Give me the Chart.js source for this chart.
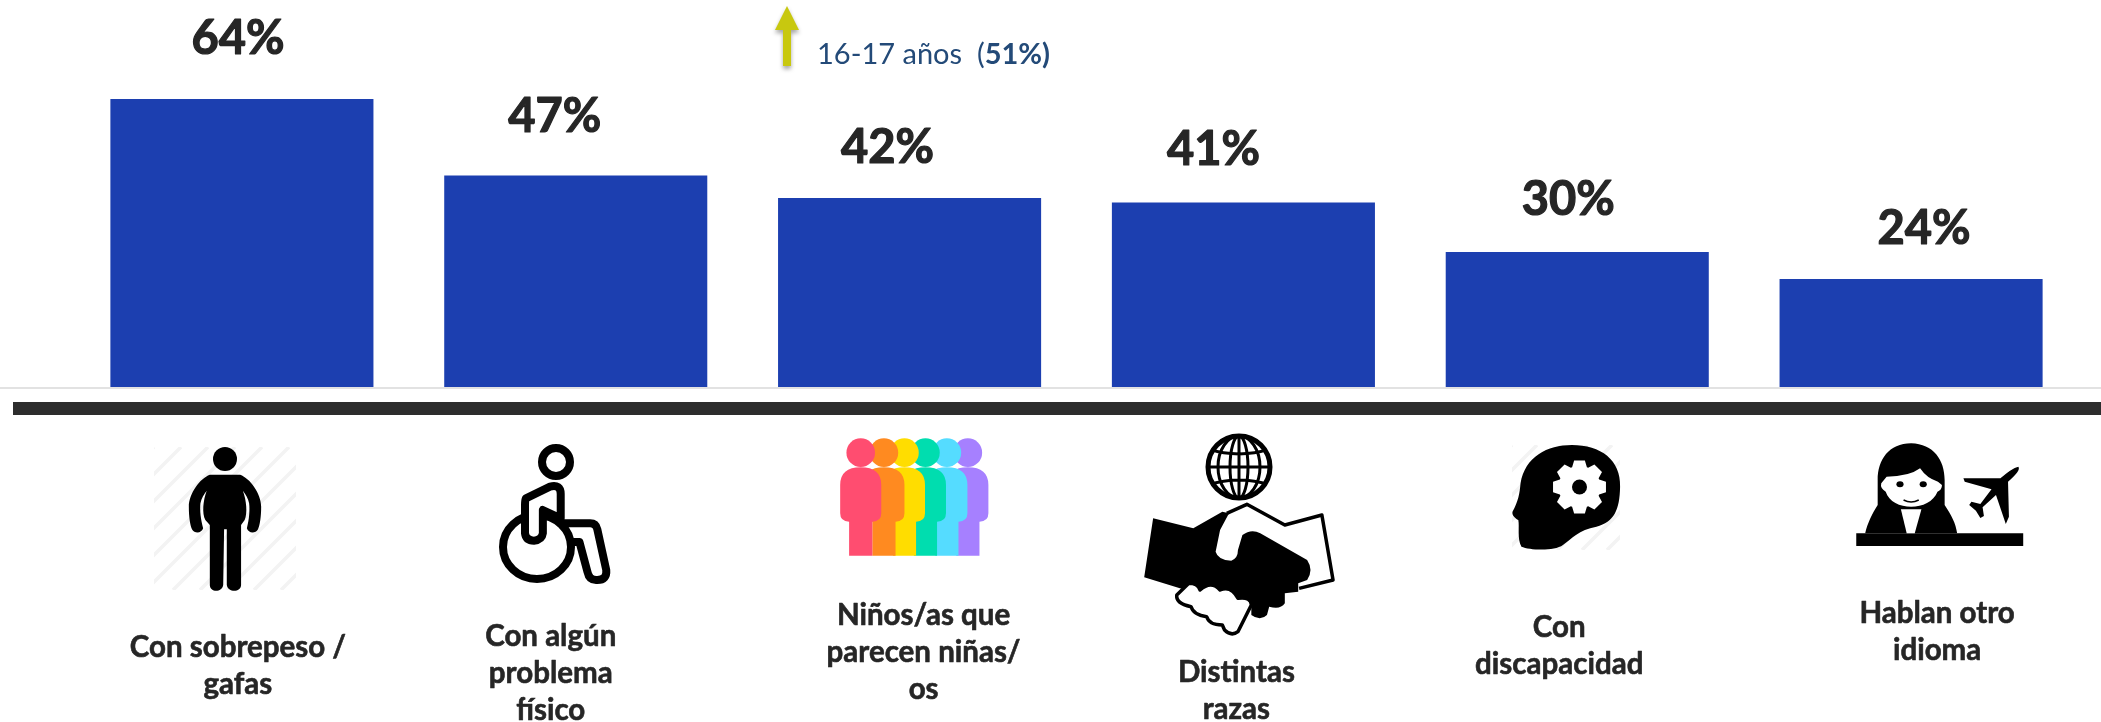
<!DOCTYPE html>
<html lang="es"><head><meta charset="utf-8">
<style>html,body{margin:0;padding:0;background:#fff}canvas{display:block}</style>
<script src="https://cdn.jsdelivr.net/npm/chart.js@4"></script>
</head><body><canvas id="c" width="2101" height="722"></canvas>
<script>
const categories = [
  ["Con sobrepeso /","gafas"],
  ["Con algún","problema","físico"],
  ["Niños/as que","parecen niñas/","os"],
  ["Distintas","razas"],
  ["Con","discapacidad"],
  ["Hablan otro","idioma"]
];
const values = [64, 47, 42, 41, 30, 24];
const noteText = "16-17 años  (";
const noteValue = "51%";

/* layout only */
const valueDx = [-4,-21,-22,-30,-9,13];
const valueGap = [60,59,50,53,52,50];
const labelDx = [-4,-25,14,-7,-18,26];
const labelY = [647,636,615,672,627,613];
const lineH = 37;
const FONT = "Lato, Carlito, 'Open Sans', sans-serif";

function z(d, panel){
  const p = new Path2D();
  p.addPath(new Path2D(d), new DOMMatrix([1/2.24,0,0,1/3,panel,370]));
  return p;
}
function hatch(ctx,x0,y0,x1,y1,step){
  ctx.save();
  ctx.beginPath();ctx.rect(x0,y0,x1-x0,y1-y0);ctx.clip();
  ctx.strokeStyle="#f3f3f3";ctx.lineWidth=3.5;
  ctx.beginPath();
  for(let s=x0-(y1-y0);s<x1;s+=step){
    ctx.moveTo(s,y1);ctx.lineTo(s+(y1-y0),y0);
  }
  ctx.stroke();ctx.restore();
}
function person(ctx){
  hatch(ctx,154,447,296,590,27);
  ctx.fillStyle="#000";
  ctx.beginPath();ctx.ellipse(225,459,12,12,0,0,7);ctx.fill();
  ctx.fill(z("M 470 314 L 538 314 C 560 325 585 370 585 410 C 585 440 582 465 578 478 C 572 492 556 490 553 475 C 558 450 560 420 558 400 C 556 385 550 372 544 362 C 552 390 555 430 548 450 L 540 465 L 540 645 C 540 668 510 668 508 645 L 508 478 L 502 478 L 500 645 C 498 668 470 668 470 645 L 470 465 L 460 450 C 452 430 455 390 463 362 C 457 372 451 385 449 400 C 447 420 450 450 455 475 C 452 490 436 492 430 478 C 426 465 423 440 423 410 C 423 370 448 325 470 314 Z",0));
}
function wheelchair(ctx){
  ctx.strokeStyle="#000";ctx.lineWidth=8;ctx.lineJoin="round";ctx.lineCap="round";
  ctx.beginPath();ctx.ellipse(556,462,14,14,0,0,7);ctx.stroke();
  ctx.beginPath();ctx.ellipse(537,547,34,32,0,0,7);ctx.stroke();
  const leg=z("M 1256 460 L 1322 460 Q 1335 460 1338 478 L 1358 600 Q 1360 630 1338 630 Q 1320 632 1316 606 L 1298 516 L 1282 516",0);
  ctx.stroke(leg);
  const torso=z("M 1178 385 L 1232 350 Q 1256 342 1256 372 L 1256 445 L 1216 420 L 1216 490 Q 1214 510 1196 512 Q 1178 512 1176 490 L 1176 405 Q 1176 390 1178 385 Z",0);
  ctx.fillStyle="#fff";ctx.fill(torso);ctx.stroke(torso);
}
function rainbow(ctx){
  const xs=[360,412,458,505,553,600];
  const cols=["#FF4D70","#FF8A20","#FFDD00","#00DDAF","#55DCFF","#A680FF"];
  for(let i=5;i>=0;i--){
    const c=xs[i];
    ctx.fillStyle=cols[i];
    ctx.fill(z(`M ${c-46} 345 Q ${c-46} 292 ${c} 292 Q ${c+46} 292 ${c+46} 345 L ${c+46} 430 Q ${c+46} 455 ${c+26} 455 L ${c+26} 557 L ${c-26} 557 L ${c-26} 455 Q ${c-46} 455 ${c-46} 430 Z`,700));
    ctx.fill(z(`M ${c-32} 248 A 32 43 0 1 1 ${c+32} 248 A 32 43 0 1 1 ${c-32} 248 Z`,700));
  }
}
function handshake(ctx){
  const cx=1239,cy=467,r=31;
  ctx.strokeStyle="#000";ctx.lineWidth=4;ctx.lineJoin="round";ctx.lineCap="butt";
  ctx.save();ctx.beginPath();ctx.arc(cx,cy,r,0,7);ctx.clip();
  ctx.lineWidth=3;ctx.beginPath();
  ctx.moveTo(cx-r,cy);ctx.lineTo(cx+r,cy);
  ctx.moveTo(cx,cy-r);ctx.lineTo(cx,cy+r);
  ctx.moveTo(cx-r,cy-18);ctx.quadraticCurveTo(cx,cy-8,cx+r,cy-18);
  ctx.moveTo(cx-r,cy+18);ctx.quadraticCurveTo(cx,cy+8,cx+r,cy+18);
  ctx.stroke();
  ctx.beginPath();ctx.ellipse(cx,cy,9,r,0,0,7);ctx.stroke();
  ctx.beginPath();ctx.ellipse(cx,cy,21,r,0,0,7);ctx.stroke();
  ctx.restore();
  ctx.lineWidth=5;ctx.beginPath();ctx.arc(cx,cy,r,0,7);ctx.stroke();
  ctx.lineWidth=3.5;
  ctx.stroke(z("M 1180 430 L 1225 403 L 1310 465 L 1393 435 L 1418 630 L 1342 655",700));
  ctx.fillStyle="#000";
  ctx.fill(z("M 1015 445 L 1105 475 L 1170 425 L 1185 430 L 1165 480 L 1155 545 Q 1160 570 1190 572 Q 1205 565 1205 540 L 1215 495 Q 1235 475 1255 490 L 1360 570 Q 1375 600 1360 630 L 1340 640 L 1340 665 L 1310 670 L 1310 700 Q 1300 720 1275 710 L 1270 735 Q 1255 755 1235 735 L 1235 700 L 1075 655 L 995 622 Z",700));
  const cuff=z("M 1095 640 Q 1115 640 1120 660 Q 1145 630 1165 660 Q 1190 645 1205 685 Q 1235 680 1235 705 L 1205 785 Q 1190 800 1175 780 L 1170 765 Q 1140 765 1135 740 Q 1105 735 1100 710 Q 1065 700 1068 675 Z",700);
  ctx.fillStyle="#fff";ctx.fill(cuff);ctx.stroke(cuff);
}
function head(ctx){
  hatch(ctx,1512,445,1620,550,25);
  ctx.fillStyle="#000";
  ctx.fill(z("M 385 225 C 450 225 495 270 493 350 C 492 420 480 455 440 470 C 400 480 385 505 365 525 C 345 545 290 540 272 530 C 262 505 268 470 265 450 C 258 445 250 435 252 425 C 265 395 268 370 270 340 C 280 260 330 225 385 225 Z",1400));
  const gx=1579.5,gy=487;
  ctx.fillStyle="#fff";
  ctx.beginPath();
  for(let i=0;i<8;i++){
    const a=i*Math.PI/4-Math.PI/2;
    const pts=[[a-0.36,21],[a-0.2,27],[a+0.2,27],[a+0.36,21]];
    pts.forEach(([t,r],k)=>{
      const X=gx+r*Math.cos(t),Y=gy+r*Math.sin(t);
      if(i===0&&k===0)ctx.moveTo(X,Y);else ctx.lineTo(X,Y);
    });
  }
  ctx.closePath();ctx.fill();
  ctx.fillStyle="#000";
  ctx.beginPath();ctx.arc(gx,gy,7.5,0,7);ctx.fill();
}
function woman(ctx){
  ctx.fillStyle="#000";
  ctx.fill(z("M 1022 490 L 1396 490 L 1396 528 L 1022 528 Z",1400));
  ctx.fill(z("M 1145 220 C 1195 222 1220 270 1220 330 L 1220 405 C 1235 435 1245 460 1248 490 L 1042 490 C 1047 460 1058 430 1070 405 L 1070 330 C 1070 270 1095 220 1145 220 Z",1400));
  ctx.fillStyle="#fff";
  ctx.fill(z("M 1090 320 Q 1140 320 1165 295 Q 1180 325 1205 335 L 1214 345 Q 1214 360 1204 365 C 1195 395 1170 410 1145 410 C 1120 410 1095 395 1088 365 Q 1075 355 1078 340 Z",1400));
  ctx.fill(z("M 1122 418 L 1168 418 L 1153 490 L 1135 490 Z",1400));
  ctx.fillStyle="#000";
  ctx.fill(z("M 1112 343 A 8 9 0 1 1 1128 343 A 8 9 0 1 1 1112 343 Z",1400));
  ctx.fill(z("M 1164 343 A 8 9 0 1 1 1180 343 A 8 9 0 1 1 1164 343 Z",1400));
  ctx.strokeStyle="#000";ctx.lineWidth=1.5;
  ctx.stroke(z("M 1128 390 Q 1145 402 1162 390",1400));
  ctx.fill(z("M 1385 290 Q 1392 300 1362 335 L 1364 440 L 1357 462 L 1335 375 L 1305 412 L 1308 438 L 1300 444 L 1290 422 L 1275 405 L 1280 395 L 1300 402 L 1325 358 L 1265 335 L 1262 325 L 1345 325 Q 1370 295 1385 290 Z",1400));
}
function heavyText(ctx,t,x,y,w){
  ctx.lineJoin="round";ctx.lineWidth=w;ctx.strokeStyle=ctx.fillStyle;
  ctx.strokeText(t,x,y);ctx.fillText(t,x,y);
}
const decor={
  id:"decor",
  afterDatasetsDraw(chart){
    const ctx=chart.ctx;
    const xs=chart.scales.x;
    const meta=chart.getDatasetMeta(0);
    ctx.save();
    ctx.fillStyle="#e2e2e2";ctx.fillRect(0,387,2101,2);
    ctx.fillStyle="#2d2d2d";ctx.fillRect(13,402,2088,13);
    person(ctx);wheelchair(ctx);rainbow(ctx);handshake(ctx);head(ctx);woman(ctx);
    ctx.textAlign="center";ctx.textBaseline="middle";ctx.fillStyle="#262626";
    ctx.font="700 47px "+FONT;
    values.forEach((v,i)=>{
      heavyText(ctx,v+"%",meta.data[i].x+valueDx[i],meta.data[i].y-valueGap[i],1.2);
    });
    ctx.font="700 29.5px "+FONT;
    categories.forEach((lines,i)=>{
      lines.forEach((t,k)=>heavyText(ctx,t,xs.getPixelForValue(i)+labelDx[i],labelY[i]+k*lineH,0.6));
    });
    ctx.save();
    ctx.shadowColor="rgba(0,0,0,.35)";ctx.shadowBlur=4;ctx.shadowOffsetY=3;
    ctx.fillStyle="#C8C80F";
    ctx.beginPath();
    ctx.moveTo(787,6);ctx.lineTo(799,30);ctx.lineTo(791,30);ctx.lineTo(791,66);
    ctx.lineTo(783,66);ctx.lineTo(783,30);ctx.lineTo(775,30);ctx.closePath();ctx.fill();
    ctx.restore();
    ctx.textAlign="left";ctx.textBaseline="alphabetic";ctx.fillStyle="#234A78";
    ctx.font="400 29px "+FONT;
    ctx.fillText(noteText,817,64);
    const w=ctx.measureText(noteText).width;
    ctx.font="700 29px "+FONT;
    ctx.fillText(noteValue+")",817+w,64);
    ctx.restore();
  }
};
new Chart(document.getElementById("c"),{
  type:"bar",
  data:{labels:categories,datasets:[{data:values,backgroundColor:"#1C3FB0",barPercentage:0.788,categoryPercentage:1}]},
  options:{
    responsive:false,animation:false,
    layout:{padding:{left:75,right:23,top:0,bottom:335}},
    plugins:{legend:{display:false},tooltip:{enabled:false}},
    scales:{
      x:{display:false},
      y:{display:false,min:0,max:86}
    }
  },
  plugins:[decor]
});
</script></body></html>
